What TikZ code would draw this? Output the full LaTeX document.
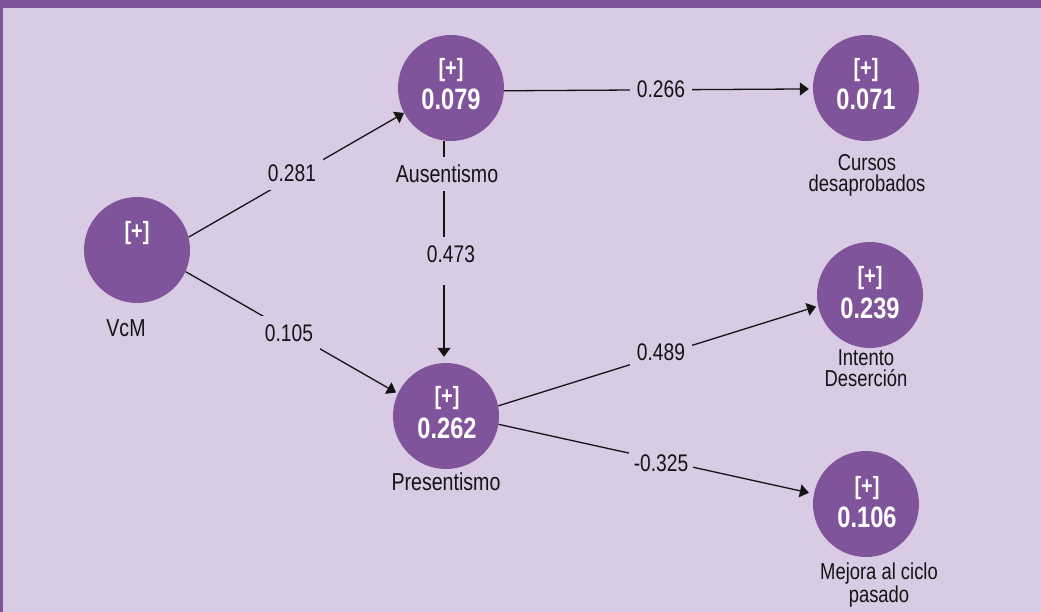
\documentclass[tikz,border=0pt]{standalone}
\usepackage{fontspec}
\setmainfont[FakeStretch=0.8]{Liberation Sans}
\usetikzlibrary{arrows.meta}
\definecolor{pur}{RGB}{127,84,155}
\definecolor{lav}{RGB}{217,203,227}
\definecolor{ink}{RGB}{20,20,20}
\begin{document}
\begin{tikzpicture}[x=1pt,y=-1pt,
  var/.style={circle,fill=pur,minimum size=106pt,inner sep=0pt},
  plus/.style={text=white,font=\fontsize{25}{25}\selectfont\bfseries,inner sep=0pt},
  val/.style={text=white,font=\fontsize{29.5}{29.5}\selectfont\bfseries,inner sep=0pt},
  lab/.style={text=ink,font=\fontsize{24.5}{24.5}\selectfont,inner sep=0pt},
  labtwo/.style={text=ink,font=\fontsize{23}{21}\selectfont,inner sep=0pt,align=center,anchor=north},
  coef/.style={text=ink,font=\fontsize{24}{24}\selectfont,fill=lav,inner xsep=7pt,inner ysep=9pt},
  arr/.style={draw=ink,line width=1.3pt,-{Triangle[length=9pt,width=13pt]}},
]
\useasboundingbox (0,0) rectangle (1041,612);
\fill[lav] (0,0) rectangle (1041,612);
\fill[pur] (0,0) rectangle (1041,8);
\fill[pur] (0,0) rectangle (3,612);

% latent variables
\node[var] (V) at (137,250) {};
\node[var] (A) at (451,88) {};
\node[var] (P) at (446,416) {};
\node[var] (C) at (866,88) {};
\node[var] (I) at (870,295) {};
\node[var] (M) at (866,504) {};

% paths
\draw[arr] (V.14) -- (A.208.5);
\draw[arr,shorten >=2pt] (V.-24) -- (P.155);
\draw[arr,shorten >=4pt] (A.-3) -- (C.181);
\draw[arr,shorten >=6pt] ([xshift=-7pt]A.south) -- ([xshift=-2pt]P.north);
\draw[arr,shorten >=2pt] (P.11) -- (I.192.5);
\draw[arr,shorten >=5pt] (P.-9) -- (M.169);

% path coefficients
\node[coef] (k1) at (292,173) {0.281};
\node[coef] (k2) at (289,333) {0.105};
\node[coef] (k3) at (661,89) {0.266};
\node[coef,anchor=base,text depth=13pt] (k4) at (451,263) {0.473};
\node[coef] (k5) at (661,352) {0.489};
\node[coef,inner xsep=5pt] (k6) at (661,463) {-0.325};

% variable labels
\node[lab] (lV) at (126,328) {VcM};
\node[lab,fill=lav,inner ysep=8pt] (lA) at (447,174) {Ausentismo};
\node[lab] (lP) at (446,482) {Presentismo};
\node[labtwo] (lC) at (867,154) {Cursos\\desaprobados};
\node[labtwo] (lI) at (866,349) {Intento\\Deserción};
\node[labtwo] (lM) at (879,563) {Mejora al ciclo\\pasado};

% circle contents
\node[plus] (pV) at (137,233) {[+]};
\node[plus] (pA) at (451,70) {[+]};
\node[val]  (vA) at (451,99) {0.079};
\node[plus] (pP) at (447,398) {[+]};
\node[val]  (vP) at (447,428) {0.262};
\node[plus] (pC) at (866,70) {[+]};
\node[val]  (vC) at (866,99) {0.071};
\node[plus] (pI) at (870,278) {[+]};
\node[val]  (vI) at (870,308) {0.239};
\node[plus] (pM) at (867,488) {[+]};
\node[val]  (vM) at (867,517) {0.106};
\end{tikzpicture}
\end{document}
